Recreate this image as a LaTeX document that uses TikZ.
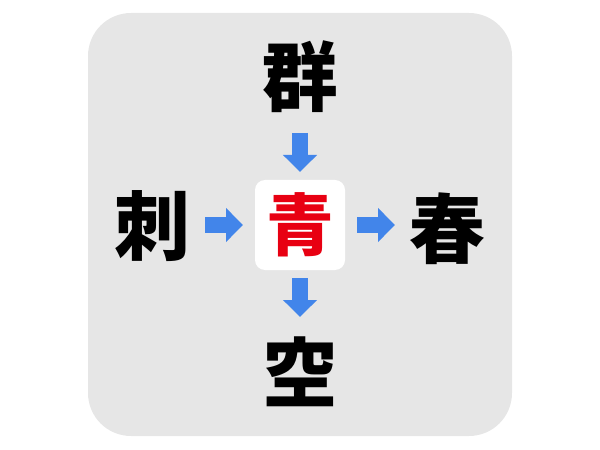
\documentclass[tikz,border=0pt]{standalone}
\usepackage{fontspec}
\newfontfamily\cjk{Noto Sans CJK JP}
\usetikzlibrary{arrows.meta}
\definecolor{bggray}{RGB}{230,230,230}
\definecolor{arrowblue}{RGB}{66,133,234}
\definecolor{kanjired}{RGB}{232,0,18}
\tikzset{
  kanji/.style={font=\cjk\bfseries\fontsize{76}{76}\selectfont, text=black, inner sep=0pt},
  centerbox/.style={fill=white, rounded corners=10bp, minimum width=90bp, minimum height=90bp, inner sep=0pt,
    font=\cjk\bfseries\fontsize{68}{68}\selectfont, text=kanjired},
  bluearrow/.style={draw=arrowblue, line width=16.5bp, -{Triangle[width=33bp,length=17bp]}}
}
\begin{document}
\begin{tikzpicture}[x=1bp,y=-1bp]
\useasboundingbox (0,0) rectangle (600,450);
\fill[bggray, rounded corners=43bp] (88,13) rectangle (512,436);
\node[centerbox] (c) at (300,225) {青};
\node[kanji] (t) at (300,77) {群};
\node[kanji] (l) at (152,226) {刺};
\node[kanji] (r) at (447,229) {春};
\node[kanji] (b) at (300,372) {空};
\coordinate (t1) at (300,133); \coordinate (t2) at (300,172);
\coordinate (b1) at (300,278); \coordinate (b2) at (300,317);
\coordinate (l1) at (205,225); \coordinate (l2) at (243,225);
\coordinate (r1) at (357,225); \coordinate (r2) at (395,225);
\draw[bluearrow] (t1) -- (t2);
\draw[bluearrow] (b1) -- (b2);
\draw[bluearrow] (l1) -- (l2);
\draw[bluearrow] (r1) -- (r2);
\end{tikzpicture}
\end{document}
